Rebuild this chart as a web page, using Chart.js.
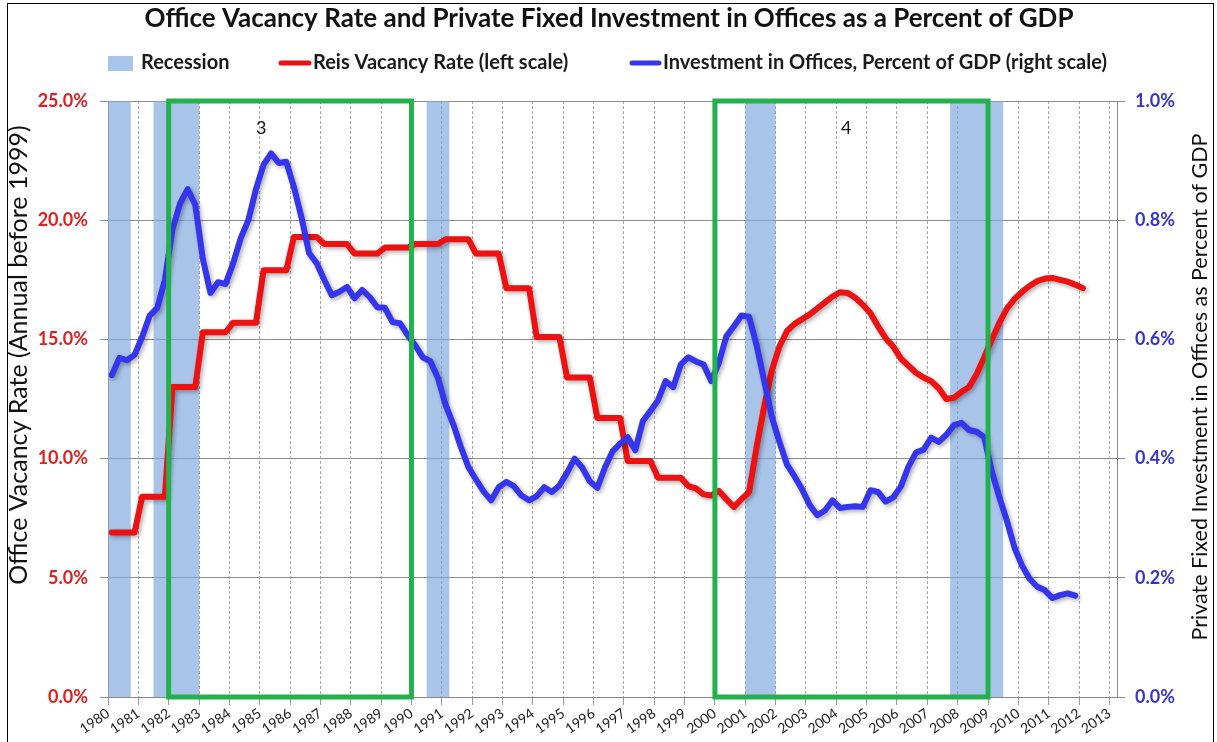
<!DOCTYPE html>
<html>
<head>
<meta charset="utf-8">
<script src="https://cdn.jsdelivr.net/npm/chart.js@4.4.1/dist/chart.umd.min.js"></script>
<style>
  html, body { margin: 0; padding: 0; background: #ffffff; }
  #wrap { width: 1217px; height: 742px; position: relative; }
</style>
</head>
<body>
<div id="wrap"><canvas id="chart" width="1217" height="742"></canvas></div>
<script>
// ---- data -----------------------------------------------------------------
const chartTitle = 'Office Vacancy Rate and Private Fixed Investment in Offices as a Percent of GDP';
const firstQuarter = '1980Q1';
const yearTicks = [1980,1981,1982,1983,1984,1985,1986,1987,1988,1989,1990,1991,1992,1993,1994,1995,1996,
                   1997,1998,1999,2000,2001,2002,2003,2004,2005,2006,2007,2008,2009,2010,2011,2012,2013];

// Reis office vacancy rate, % (annual values held for each quarter before 1999, quarterly after)
const vacancyRate = [
  6.9, 6.9, 6.9, 6.9,          // 1980
  8.4, 8.4, 8.4, 8.4,          // 1981
  13.0, 13.0, 13.0, 13.0,      // 1982
  15.3, 15.3, 15.3, 15.3,      // 1983
  15.7, 15.7, 15.7, 15.7,      // 1984
  17.9, 17.9, 17.9, 17.9,      // 1985
  19.3, 19.3, 19.3, 19.3,      // 1986
  19.0, 19.0, 19.0, 19.0,      // 1987
  18.6, 18.6, 18.6, 18.6,      // 1988
  18.85, 18.85, 18.85, 18.85,  // 1989
  19.0, 19.0, 19.0, 19.0,      // 1990
  19.2, 19.2, 19.2, 19.2,      // 1991
  18.6, 18.6, 18.6, 18.6,      // 1992
  17.15, 17.15, 17.15, 17.15,  // 1993
  15.1, 15.1, 15.1, 15.1,      // 1994
  13.4, 13.4, 13.4, 13.4,      // 1995
  11.7, 11.7, 11.7, 11.7,      // 1996
  9.9, 9.9, 9.9, 9.9,          // 1997
  9.2, 9.2, 9.2, 9.2,          // 1998
  8.85, 8.75, 8.5, 8.45,       // 1999
  8.65, 8.3, 7.97, 8.3,        // 2000
  8.6, 10.5, 12.2, 13.7,       // 2001
  14.7, 15.35, 15.65, 15.85,   // 2002
  16.05, 16.3, 16.55, 16.8,    // 2003
  16.98, 16.95, 16.75, 16.45,  // 2004
  16.1, 15.55, 15.05, 14.7,    // 2005
  14.2, 13.9, 13.6, 13.4,      // 2006
  13.25, 12.95, 12.5, 12.55,   // 2007
  12.8, 13.0, 13.55, 14.25,    // 2008
  15.0, 15.7, 16.3, 16.7,      // 2009
  17.0, 17.25, 17.45, 17.55,   // 2010
  17.58, 17.5, 17.42, 17.3,    // 2011
  17.15                        // 2012
];

// Private fixed investment in offices, % of GDP (quarterly)
const officeInvestment = [
  0.540, 0.569, 0.565, 0.574,  // 1980
  0.604, 0.640, 0.653, 0.700,  // 1981
  0.785, 0.828, 0.852, 0.826,  // 1982
  0.735, 0.678, 0.696, 0.693,  // 1983
  0.728, 0.770, 0.800, 0.852,  // 1984
  0.893, 0.912, 0.896, 0.898,  // 1985
  0.856, 0.805, 0.745, 0.728,  // 1986
  0.700, 0.674, 0.680, 0.688,  // 1987
  0.669, 0.683, 0.671, 0.654,  // 1988
  0.653, 0.629, 0.627, 0.607,  // 1989
  0.590, 0.570, 0.563, 0.535,  // 1990
  0.490, 0.458, 0.420, 0.386,  // 1991
  0.365, 0.345, 0.330, 0.352,  // 1992
  0.361, 0.354, 0.338, 0.330,  // 1993
  0.337, 0.352, 0.344, 0.355,  // 1994
  0.376, 0.400, 0.385, 0.362,  // 1995
  0.351, 0.385, 0.412, 0.425,  // 1996
  0.436, 0.414, 0.463, 0.480,  // 1997
  0.498, 0.530, 0.520, 0.558,  // 1998
  0.570, 0.563, 0.558, 0.530,  // 1999
  0.560, 0.605, 0.622, 0.640,  // 2000
  0.638, 0.590, 0.530, 0.470,  // 2001
  0.428, 0.390, 0.370, 0.348,  // 2002
  0.322, 0.305, 0.313, 0.330,  // 2003
  0.317, 0.319, 0.320, 0.319,  // 2004
  0.347, 0.344, 0.328, 0.335,  // 2005
  0.353, 0.386, 0.410, 0.415,  // 2006
  0.435, 0.428, 0.440, 0.456,  // 2007
  0.460, 0.448, 0.445, 0.436,  // 2008
  0.378, 0.335, 0.295, 0.250,  // 2009
  0.220, 0.198, 0.185, 0.179,  // 2010
  0.166, 0.171, 0.174, 0.170   // 2011
];

// NBER recessions, by first and last quarter
const recessionStart = ['1980Q1', '1981Q3', '1990Q3', '2001Q1', '2007Q4'];
const recessionEnd   = ['1980Q3', '1982Q4', '1991Q1', '2001Q4', '2009Q2'];

// Highlighted periods (years) and their labels
const periodStart = [1982, 2000];
const periodEnd   = [1990, 2009];
const periodLabel = ['3', '4'];
const periodLabelAt = [1985.05, 2004.33];

const legendLabels = ['Recession', 'Reis Vacancy Rate (left scale)', 'Investment in Offices, Percent of GDP (right scale)'];
const leftAxisTitle = 'Office Vacancy Rate (Annual before 1999)';
const rightAxisTitle = 'Private Fixed Investment in Offices as Percent of GDP';

// ---- helpers --------------------------------------------------------------
const FONT = 'Lato, "Open Sans", sans-serif';
const RED = '#ee1111';
const BLUE = '#3535ee';
const BAND = 'rgba(128, 168, 222, 0.68)';
const GREEN = '#22b14c';

function parseQuarter(q) {
  return { year: parseInt(q.slice(0, 4), 10), q: parseInt(q.slice(5), 10) };
}
// centre of a quarter on the year axis
function quarterMid(q) { const p = parseQuarter(q); return p.year + (p.q - 0.5) / 4; }
function quarterStart(q) { const p = parseQuarter(q); return p.year + (p.q - 1) / 4; }
function quarterEnd(q) { const p = parseQuarter(q); return p.year + p.q / 4; }

function quarterLabels(first, count) {
  const p = parseQuarter(first);
  const out = [];
  for (let i = 0; i < count; i++) {
    const idx = (p.q - 1) + i;
    out.push((p.year + Math.floor(idx / 4)) + 'Q' + (idx % 4 + 1));
  }
  return out;
}
function toPoints(values) {
  const labels = quarterLabels(firstQuarter, values.length);
  return values.map((v, i) => ({ x: quarterMid(labels[i]), y: v }));
}

// ---- plugins --------------------------------------------------------------
const recessionBands = {
  id: 'recessionBands',
  beforeDatasetsDraw(chart) {
    const { ctx, scales } = chart;
    ctx.save();
    ctx.fillStyle = BAND;
    for (let i = 0; i < recessionStart.length; i++) {
      const x0 = scales.x.getPixelForValue(quarterStart(recessionStart[i]));
      const x1 = scales.x.getPixelForValue(quarterEnd(recessionEnd[i]));
      const yTop = scales.y.getPixelForValue(scales.y.max);
      const yBot = scales.y.getPixelForValue(scales.y.min);
      ctx.fillRect(x0, yTop, x1 - x0, yBot - yTop);
    }
    ctx.restore();
  }
};

const lineShadow = {
  id: 'lineShadow',
  beforeDatasetDraw(chart) {
    const ctx = chart.ctx;
    ctx.save();
    ctx.shadowColor = 'rgba(0,0,0,0.32)';
    ctx.shadowBlur = 4;
    ctx.shadowOffsetX = 2;
    ctx.shadowOffsetY = 2;
  },
  afterDatasetDraw(chart) {
    chart.ctx.restore();
  }
};

const periodBoxes = {
  id: 'periodBoxes',
  afterDatasetsDraw(chart) {
    const { ctx, scales } = chart;
    ctx.save();
    ctx.strokeStyle = GREEN;
    ctx.lineWidth = 5;
    ctx.lineJoin = 'miter';
    for (let i = 0; i < periodStart.length; i++) {
      const x0 = scales.x.getPixelForValue(periodStart[i]);
      const x1 = scales.x.getPixelForValue(periodEnd[i]);
      const y0 = scales.y.getPixelForValue(scales.y.max);
      const y1 = scales.y.getPixelForValue(scales.y.min);
      ctx.strokeRect(x0, y0, x1 - x0, y1 - y0);
    }
    ctx.fillStyle = '#111';
    ctx.font = '18px ' + FONT;
    ctx.textAlign = 'center';
    ctx.textBaseline = 'middle';
    for (let i = 0; i < periodLabel.length; i++) {
      const x = scales.x.getPixelForValue(periodLabelAt[i]);
      const y = scales.y.getPixelForValue(23.87);
      ctx.fillText(periodLabel[i], x, y);
    }
    ctx.restore();
  }
};

// rotated axis title reading bottom-to-top
function drawVerticalText(ctx, text, x, y, font) {
  ctx.save();
  ctx.translate(x, y);
  ctx.rotate(-Math.PI / 2);
  ctx.font = font;
  ctx.textAlign = 'center';
  ctx.textBaseline = 'middle';
  ctx.fillStyle = '#111';
  ctx.fillText(text, 0, 0);
  ctx.restore();
}

const header = {
  id: 'header',
  afterDraw(chart) {
    const ctx = chart.ctx;
    ctx.save();
    // outer frame
    ctx.strokeStyle = '#000';
    ctx.lineWidth = 1;
    ctx.strokeRect(7.5, 3.5, 1206, 800);
    // title
    ctx.fillStyle = '#111';
    ctx.font = 'bold 26px ' + FONT;
    ctx.textAlign = 'center';
    ctx.textBaseline = 'middle';
    ctx.fillText(chartTitle, 609, 19);
    // legend
    const ly = 63;
    ctx.font = 'bold 20px ' + FONT;
    ctx.textAlign = 'left';
    ctx.fillStyle = BAND;
    ctx.fillRect(108, 56, 25, 15);
    ctx.fillStyle = '#1a1a1a';
    ctx.fillText(legendLabels[0], 141, ly);
    ctx.lineCap = 'round';
    ctx.lineWidth = 5;
    ctx.strokeStyle = RED;
    ctx.beginPath(); ctx.moveTo(281, ly); ctx.lineTo(309, ly); ctx.stroke();
    ctx.fillText(legendLabels[1], 313, ly);
    ctx.strokeStyle = BLUE;
    ctx.beginPath(); ctx.moveTo(632, ly); ctx.lineTo(659, ly); ctx.stroke();
    ctx.fillText(legendLabels[2], 663, ly);
    ctx.restore();
    // axis titles
    drawVerticalText(ctx, leftAxisTitle, 19, 355, '25px ' + FONT);
    drawVerticalText(ctx, rightAxisTitle, 1200, 387, '21.5px ' + FONT);
  }
};

// ---- chart ----------------------------------------------------------------
new Chart(document.getElementById('chart'), {
  type: 'line',
  data: {
    datasets: [
      {
        label: legendLabels[2],
        data: toPoints(officeInvestment),
        yAxisID: 'y1',
        borderColor: BLUE,
        borderWidth: 6,
        pointRadius: 0,
        tension: 0,
        borderJoinStyle: 'round',
        borderCapStyle: 'round',
        order: 1
      },
      {
        label: legendLabels[1],
        data: toPoints(vacancyRate),
        yAxisID: 'y',
        borderColor: RED,
        borderWidth: 6,
        pointRadius: 0,
        tension: 0,
        borderJoinStyle: 'round',
        borderCapStyle: 'round',
        order: 2
      }
    ]
  },
  options: {
    responsive: false,
    animation: false,
    events: [],
    layout: { padding: { top: 101, left: 0, right: 0, bottom: 0 } },
    plugins: { legend: { display: false }, title: { display: false }, tooltip: { enabled: false } },
    scales: {
      x: {
        type: 'linear',
        min: 1980,
        max: 2013.25,
        afterBuildTicks(scale) { scale.ticks = yearTicks.map(v => ({ value: v })); },
        afterFit(scale) { scale.height = 45; },
        ticks: {
          autoSkip: false,
          maxRotation: 35,
          minRotation: 35,
          padding: 0,
          color: '#222',
          font: { family: FONT, size: 14 },
          callback: v => String(v)
        },
        grid: { color: '#a8a8a8', lineWidth: 1, tickLength: 8, tickColor: '#999', tickBorderDash: [] },
        border: { color: '#888', width: 1, dash: [3, 2] }
      },
      y: {
        position: 'left',
        min: 0,
        max: 25,
        afterBuildTicks(scale) { scale.ticks = [0, 5, 10, 15, 20, 25].map(v => ({ value: v })); },
        afterFit(scale) { scale.width = 108; },
        ticks: {
          color: '#e02020',
          padding: 12,
          font: { family: FONT, size: 18, weight: 'bold' },
          callback: v => v.toFixed(1) + '%'
        },
        grid: { color: '#8c8c8c', lineWidth: 1, tickLength: 8 },
        border: { color: '#8c8c8c', width: 1 }
      },
      y1: {
        position: 'right',
        min: 0,
        max: 1,
        afterBuildTicks(scale) { scale.ticks = [0, 0.2, 0.4, 0.6, 0.8, 1.0].map(v => ({ value: v })); },
        afterFit(scale) { scale.width = 100; },
        ticks: {
          color: '#3535cc',
          padding: 10,
          font: { family: FONT, size: 18, weight: 'bold' },
          callback: v => v.toFixed(1) + '%'
        },
        grid: { drawOnChartArea: false, color: '#8c8c8c', tickLength: 8 },
        border: { color: '#8c8c8c', width: 1 }
      }
    }
  },
  plugins: [recessionBands, lineShadow, periodBoxes, header]
});
</script>
</body>
</html>
